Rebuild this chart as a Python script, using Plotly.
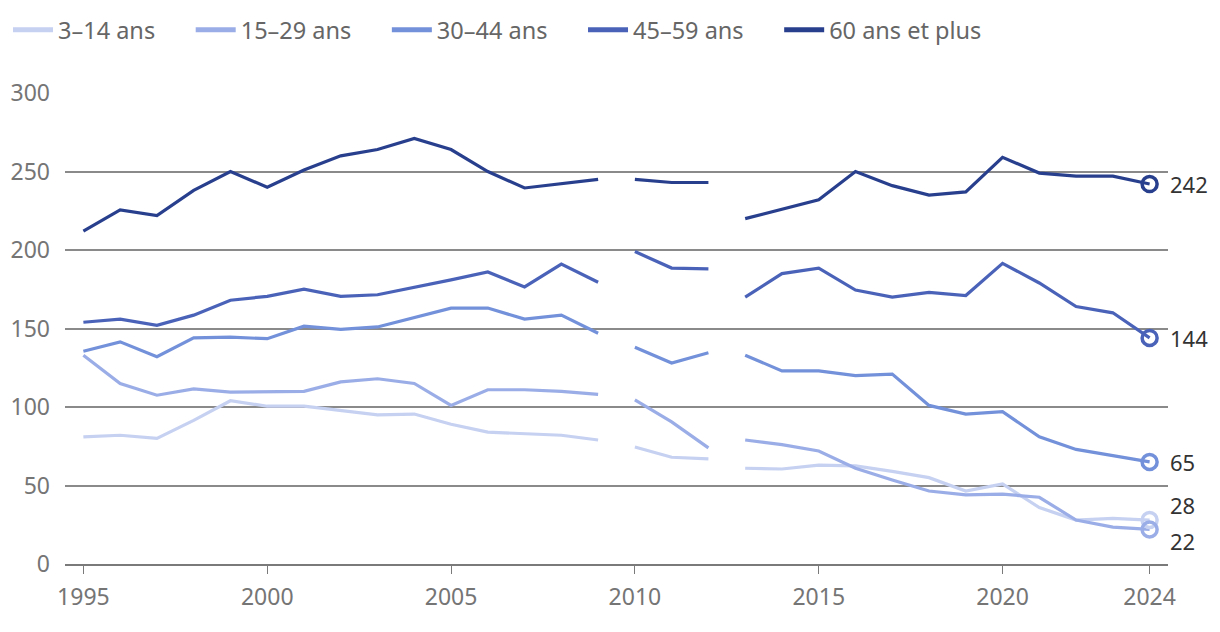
import plotly.graph_objects as go

years = list(range(1995, 2025))
gap_after = [2009, 2012]

names = ["3–14 ans", "15–29 ans", "30–44 ans", "45–59 ans", "60 ans et plus"]
colors = ["#c6d1f2", "#9bade6", "#7391da", "#4a63b9", "#283f8e"]

v_3_14 = [81, 82, 80, 91.5, 104, 100.5, 100.5, 98, 95, 95.5, 89, 84, 83, 82, 79,
          74.5, 68, 67,
          61, 60.5, 63, 62.5, 59, 55, 46.5, 51, 36, 28, 29, 28]
v_15_29 = [133, 115, 107.5, 111.5, 109.5, 109.5, 110, 116, 118, 115, 101, 111, 111, 110, 108,
           104.5, 90.5, 74,
           79, 76, 72, 61, 53.5, 46.5, 44, 44.5, 42.5, 28, 23.5, 22]
v_30_44 = [135.5, 141.5, 132, 144, 144.5, 143.5, 151.5, 149.5, 151, 157, 163, 163, 156, 158.5, 147,
           138, 128, 134.5,
           133, 123, 123, 120, 121, 101, 95.5, 97, 81, 73, 69, 65]
v_45_59 = [154, 156, 152, 158.5, 168, 170.5, 175, 170.5, 171.5, 176, 181, 186, 176.5, 191, 179.5,
           199, 188.5, 188,
           170, 185, 188.5, 174.5, 170, 173, 171, 191.5, 179, 164, 160, 144]
v_60 = [212, 225.5, 222, 238, 250, 240, 251, 260, 264, 271, 264, 250, 239.5, 242, 245,
        245, 243, 243,
        220, 226, 232, 250, 241, 235, 237, 259, 249, 247, 247, 242]
end_labels = ["28", "22", "65", "144", "242"]

series = [v_3_14, v_15_29, v_30_44, v_45_59, v_60]

yticks = [0, 50, 100, 150, 200, 250, 300]
xticks = [1995, 2000, 2005, 2010, 2015, 2020, 2024]


def with_gaps(xs, ys):
    ox, oy = [], []
    for x, y in zip(xs, ys):
        ox.append(x)
        oy.append(y)
        if x in gap_after:
            ox.append(None)
            oy.append(None)
    return ox, oy


pad = "\u00a0" * 5

fig = go.Figure()
for name, col, vals in zip(names, colors, series):
    gx, gy = with_gaps(years, vals)
    fig.add_trace(go.Scatter(x=gx, y=gy, mode="lines", name=name + pad,
                             line=dict(color=col, width=3.2), connectgaps=False,
                             hoverinfo="skip"))
for name, col, vals, lab in zip(names, colors, series, end_labels):
    fig.add_trace(go.Scatter(x=[years[-1]], y=[vals[-1]], mode="markers",
                             marker=dict(symbol="circle-open", size=15,
                                         color=col, line=dict(width=3.5, color=col)),
                             showlegend=False, cliponaxis=False, hoverinfo="skip"))

label_shift = {"28": 15, "22": -12, "65": 0, "144": 0, "242": 0}
for col, vals, lab in zip(colors, series, end_labels):
    fig.add_annotation(x=years[-1], y=vals[-1], text=lab, showarrow=False,
                       xanchor="left", xshift=18, yshift=label_shift[lab],
                       font=dict(size=22, color="#333333"))

fig.update_layout(
    width=1220, height=632,
    margin=dict(l=57, r=60, t=85, b=76, autoexpand=False),
    paper_bgcolor="white", plot_bgcolor="white",
    font=dict(family="Noto Sans, Open Sans, sans-serif", color="#757575", size=23),
    showlegend=True,
    legend=dict(orientation="h", x=0, xref="container", xanchor="left",
                y=1.0, yref="container", yanchor="top",
                font=dict(size=23.5, color="#666666"),
                itemwidth=40, tracegroupgap=0, itemsizing="constant"),
    xaxis=dict(range=[1994.5, 2024.5], tickvals=xticks, ticktext=[str(t) for t in xticks],
               showgrid=False, zeroline=False, showline=True, linecolor="#7a7a7a",
               linewidth=2, ticks="outside", ticklen=8, tickcolor="#7a7a7a", tickwidth=1,
               tickfont=dict(size=23, color="#757575"), ticklabelstandoff=3,
               automargin=False),
    yaxis=dict(range=[0, 300], tickvals=yticks, showgrid=True, gridcolor="#8a8a8a",
               gridwidth=1.5, zeroline=False, showline=False, ticks="",
               tickfont=dict(size=23, color="#757575"), ticklabelstandoff=14,
               automargin=False),
)

fig.write_html("out.html")
